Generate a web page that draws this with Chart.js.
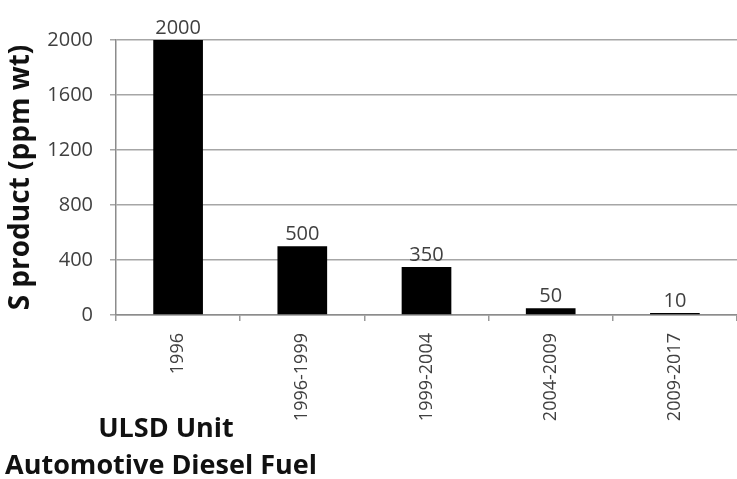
<!DOCTYPE html>
<html lang="en">
<head>
    <meta charset="UTF-8">
    <title>S product (ppm wt)</title>
    <script src="https://cdn.jsdelivr.net/npm/chart.js"></script>
    <style>
        html, body { margin: 0; padding: 0; background: #fff; }
        #wrap { width: 737px; height: 479px; position: relative; }
    </style>
</head>
<body>
    <div id="wrap"><canvas id="sulfurChart" width="737" height="479"></canvas></div>

    <script>
        const periods = ['1996', '1996-1999', '1999-2004', '2004-2009', '2009-2017'];
        const sulfurPpm = [2000, 500, 350, 50, 10];
        const yTicks = [0, 400, 800, 1200, 1600, 2000];
        const footLines = ['ULSD Unit', 'Automotive Diesel Fuel'];

        const FONT = "'Open Sans', 'Noto Sans', sans-serif";

        // value labels above each bar
        const barLabels = {
            id: 'barLabels',
            afterDatasetsDraw(chart) {
                const ctx = chart.ctx;
                const meta = chart.getDatasetMeta(0);
                ctx.save();
                ctx.font = '20px ' + FONT;
                ctx.fillStyle = '#404040';
                ctx.textAlign = 'center';
                ctx.textBaseline = 'bottom';
                meta.data.forEach((bar, i) => {
                    ctx.fillText(String(sulfurPpm[i]), bar.x, bar.y - 2);
                });
                ctx.restore();
            }
        };

        // bold captions at the bottom left
        const footText = {
            id: 'footText',
            afterDraw(chart) {
                const ctx = chart.ctx;
                ctx.save();
                ctx.font = 'bold 27px ' + FONT;
                ctx.fillStyle = '#111';
                ctx.textAlign = 'center';
                ctx.textBaseline = 'middle';
                ctx.fillText(footLines[0], 166, 429);
                ctx.fillText(footLines[1], 161, 466);
                ctx.restore();
            }
        };

        new Chart(document.getElementById('sulfurChart'), {
            type: 'bar',
            data: {
                labels: periods,
                datasets: [{
                    data: sulfurPpm,
                    backgroundColor: '#000',
                    borderWidth: 0,
                    categoryPercentage: 1,
                    barPercentage: 0.4,
                    minBarLength: 2
                }]
            },
            options: {
                responsive: false,
                animation: false,
                layout: { padding: { top: 40, right: 0, left: 0, bottom: 0 } },
                plugins: {
                    legend: { display: false },
                    tooltip: { enabled: false }
                },
                scales: {
                    x: {
                        afterFit(scale) { scale.height = 164; },
                        grid: { drawOnChartArea: false, drawTicks: true, tickLength: 6, color: '#999', lineWidth: 1.5 },
                        border: { color: '#8c8c8c', width: 1.5 },
                        ticks: {
                            autoSkip: false,
                            minRotation: 90,
                            maxRotation: 90,
                            padding: 12,
                            color: '#404040',
                            font: { family: FONT, size: 18 }
                        }
                    },
                    y: {
                        min: 0,
                        max: 2000,
                        afterFit(scale) { scale.width = 116; },
                        afterBuildTicks(scale) { scale.ticks = yTicks.map(v => ({ value: v })); },
                        grid: { color: '#a6a6a6', lineWidth: 1.5, tickLength: 6 },
                        border: { color: '#8c8c8c', width: 1.5 },
                        ticks: {
                            padding: 17,
                            color: '#404040',
                            font: { family: FONT, size: 20 },
                            callback: v => String(v)
                        },
                        title: {
                            display: true,
                            text: 'S product (ppm wt)',
                            color: '#111',
                            padding: { top: 4, bottom: 0 },
                            font: { family: FONT, size: 28, weight: 'bold' }
                        }
                    }
                }
            },
            plugins: [barLabels, footText]
        });
    </script>
</body>
</html>
